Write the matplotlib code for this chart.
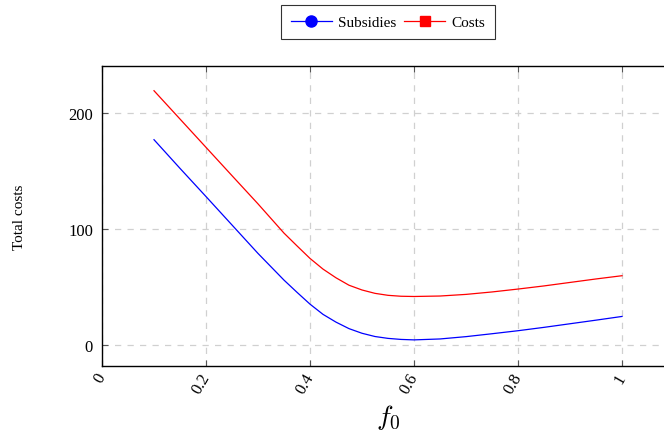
import matplotlib
matplotlib.use("Agg")
import matplotlib.pyplot as plt

plt.rcParams['font.family'] = ['Liberation Serif', 'DejaVu Serif']
plt.rcParams['mathtext.fontset'] = 'cm'

# values
f0 = [0.10, 0.15, 0.20, 0.25, 0.30, 0.35, 0.375, 0.40, 0.425, 0.45, 0.475,
      0.50, 0.525, 0.55, 0.575, 0.60, 0.65, 0.70, 0.75, 0.80, 0.85, 0.90,
      0.95, 1.00]
subsidies = [177, 152.3, 128, 103.5, 79, 56, 45.5, 35.3, 26.5, 19.8, 14.2,
             10.2, 7.4, 5.8, 4.9, 4.5, 5.3, 7.3, 9.8, 12.4, 15.3, 18.4,
             21.5, 24.7]
costs = [219.2, 194.8, 170.4, 146, 121.7, 96.5, 85.5, 74.7, 65.5, 58, 51.6,
         47.5, 44.6, 42.9, 42.1, 41.9, 42.3, 43.7, 45.8, 48.3, 51, 54,
         57, 59.8]

xticks = [0, 0.2, 0.4, 0.6, 0.8, 1]
xticklabels = ["0", "0.2", "0.4", "0.6", "0.8", "1"]
yticks = [0, 100, 200]

fig = plt.figure(figsize=(6.64, 4.39), dpi=100)
ax = fig.add_axes([102/664, 1 - 367/439, 572/664, 300/439])

ax.plot(f0, subsidies, color='blue', lw=0.9, label='Subsidies')
ax.plot(f0, costs, color='red', lw=0.9, label='Costs')

ax.set_xlim(0, 1.1)
ax.set_ylim(-18, 240.5)
ax.set_xticks(xticks)
ax.set_xticklabels(xticklabels, rotation=60, ha='right', va='center',
                   rotation_mode='anchor', fontsize=12)
ax.set_yticks(yticks)
ax.tick_params(axis='y', labelsize=12, pad=6.5)
ax.tick_params(direction='in', length=4, color='#555555', top=True, right=True)
ax.tick_params(axis='x', pad=6)

ax.grid(True, color='#d0d0d0', linestyle=(0, (5, 5)), lw=0.9)
for s in ax.spines.values():
    s.set_linewidth(1.0)

ax.set_xlabel(r'$f_0$', fontsize=20, labelpad=4)
ax.set_ylabel('Total costs', fontsize=11, labelpad=30)

h_sub, = ax.plot([], [], color='blue', lw=0.9, marker='o', ms=8)
h_cost, = ax.plot([], [], color='red', lw=0.9, marker='s', ms=7)
leg = ax.legend([h_sub, h_cost], ['Subsidies', 'Costs'], loc='lower center',
                bbox_to_anchor=(0.5, 1.09), borderaxespad=0, ncol=2,
                frameon=True, fancybox=False, edgecolor='black', fontsize=11,
                handlelength=2.7, columnspacing=0.5, handletextpad=0.4,
                borderpad=0.65)
leg.get_frame().set_linewidth(0.8)

fig.savefig("out.png", dpi=100)
